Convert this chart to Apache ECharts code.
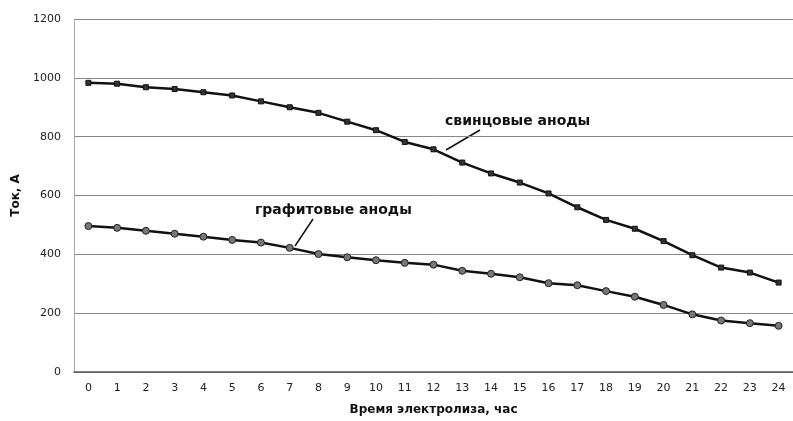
<!DOCTYPE html>
<html>
<head>
<meta charset="utf-8">
<script src="https://cdn.jsdelivr.net/npm/echarts@6/dist/echarts.min.js"></script>
<style>html,body{margin:0;padding:0;background:#fff}#c{width:793px;height:421px}</style>
</head>
<body>
<div id="c"></div>
<script>
const hours = ['0','1','2','3','4','5','6','7','8','9','10','11','12','13','14','15','16','17','18','19','20','21','22','23','24'];
const leadAnodes = [983,980,968,962,951,940,920,900,881,851,822,782,757,712,675,644,607,560,517,487,445,397,355,338,304];
const graphiteAnodes = [496,490,480,470,460,449,440,422,401,390,380,371,365,344,334,322,302,295,275,256,228,196,175,166,157];
const yTicks = {min:0, max:1200, interval:200};
const leadLabel = 'свинцовые аноды';
const graphiteLabel = 'графитовые аноды';

const chart = echarts.init(document.getElementById('c'), null, {renderer:'canvas'});
const font = 'DejaVu Sans, Verdana, sans-serif';
chart.setOption({
  animation:false,
  backgroundColor:'#fff',
  grid:{left:74, top:19, width:728, height:355},
  xAxis:{
    type:'category', data:hours, boundaryGap:true,
    name:'Время электролиза, час', nameLocation:'middle', nameGap:32,
    nameTextStyle:{fontFamily:font, fontWeight:'bold', fontSize:12, color:'#111'},
    axisLine:{lineStyle:{color:'#555', width:1.5}},
    axisTick:{show:false},
    axisLabel:{fontFamily:font, fontSize:11, color:'#222', margin:11, interval:0}
  },
  yAxis:{
    type:'value', min:yTicks.min, max:yTicks.max, interval:yTicks.interval,
    name:'Ток, А', nameLocation:'middle', nameGap:46, nameRotate:90,
    nameTextStyle:{fontFamily:font, fontWeight:'bold', fontSize:12, color:'#111'},
    axisLine:{show:true, lineStyle:{color:'#aaa', width:1}},
    axisTick:{show:false},
    axisLabel:{fontFamily:font, fontSize:11, color:'#222', margin:13, formatter:v => String(v)},
    splitLine:{lineStyle:{color:'#888', width:1}}
  },
  series:[
    {type:'line', name:leadLabel, data:leadAnodes, smooth:false,
     symbol:'rect', symbolSize:5, showAllSymbol:true,
     lineStyle:{color:'#111', width:2.5},
     itemStyle:{color:'#333', borderColor:'#111', borderWidth:1}},
    {type:'line', name:graphiteLabel, data:graphiteAnodes, smooth:false,
     symbol:'circle', symbolSize:7, showAllSymbol:true,
     lineStyle:{color:'#111', width:2.5},
     itemStyle:{color:'#777', borderColor:'#222', borderWidth:1}}
  ],
  graphic:[
    {type:'text', left:445, top:114, style:{text:leadLabel, font:'bold 14px '+font, fill:'#111'}},
    {type:'line', shape:{x1:480, y1:130, x2:446, y2:150}, style:{stroke:'#111', lineWidth:1.5}},
    {type:'text', left:255, top:203, style:{text:graphiteLabel, font:'bold 14px '+font, fill:'#111'}},
    {type:'line', shape:{x1:313, y1:219, x2:295, y2:246}, style:{stroke:'#111', lineWidth:1.5}}
  ]
});
</script>
</body>
</html>
